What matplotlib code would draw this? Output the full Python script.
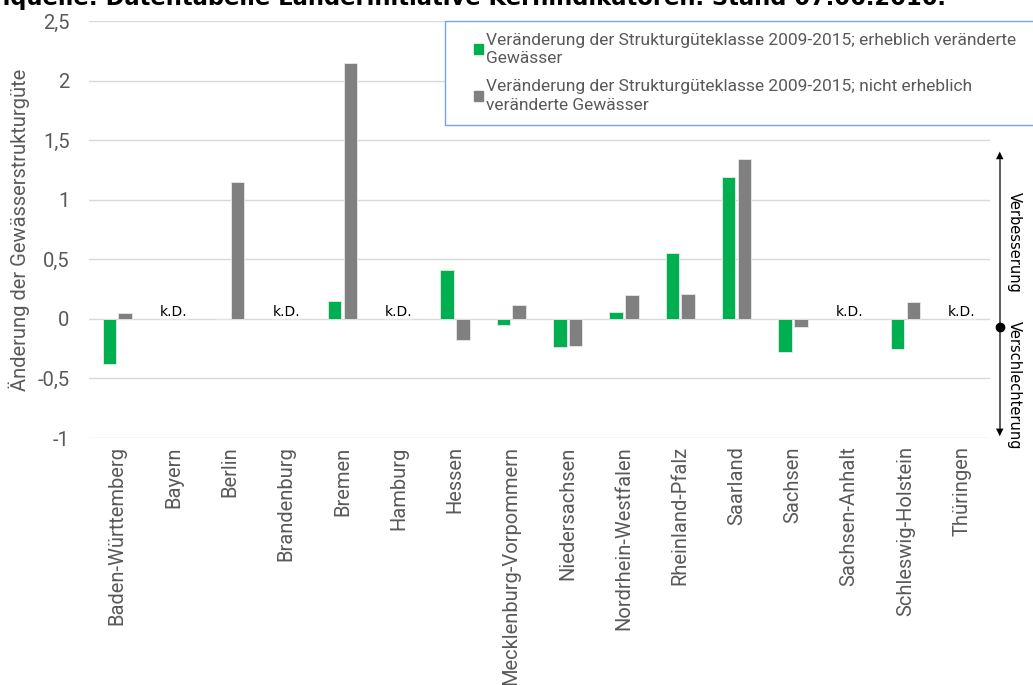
import matplotlib.pyplot as plt
import numpy as np
from matplotlib.patches import Patch, Rectangle

laender = ["Baden-Württemberg", "Bayern", "Berlin", "Brandenburg", "Bremen", "Hamburg",
           "Hessen", "Mecklenburg-Vorpommern", "Niedersachsen", "Nordrhein-Westfalen",
           "Rheinland-Pfalz", "Saarland", "Sachsen", "Sachsen-Anhalt", "Schleswig-Holstein",
           "Thüringen"]
# None = keine Daten
erheblich = [-0.38, None, 0.0, None, 0.15, None, 0.41, -0.05, -0.24, 0.06, 0.55, 1.19,
             -0.28, None, -0.25, None]
nicht_erheblich = [0.05, None, 1.15, None, 2.15, None, -0.18, 0.12, -0.23, 0.20, 0.21, 1.34,
                   -0.07, None, 0.14, None]
y_ticks = [-1, -0.5, 0, 0.5, 1, 1.5, 2, 2.5]
y_ticklabels = ["-1", "-0,5", "0", "0,5", "1", "1,5", "2", "2,5"]

plt.rcParams['font.family'] = ['Roboto', 'DejaVu Sans']

gruen = "#00B050"
grau = "#808080"
text_grau = "#595959"

fig = plt.figure(figsize=(10.33, 6.85), dpi=100)
ax = fig.add_axes([89 / 1033, 1 - 438 / 685, 901 / 1033, 417 / 685])

x = np.arange(len(laender))
w = 0.24
e_vals = [v if v is not None else 0 for v in erheblich]
n_vals = [v if v is not None else 0 for v in nicht_erheblich]
ax.bar(x - 0.14, e_vals, w, color=gruen, edgecolor="#e8e8e8", linewidth=0.6, zorder=3)
ax.bar(x + 0.14, n_vals, w, color=grau, edgecolor="#e8e8e8", linewidth=0.6, zorder=3)

for i in range(len(laender)):
    if erheblich[i] is None and nicht_erheblich[i] is None:
        ax.text(x[i], 0.0, "k.D.", ha="center", va="bottom", fontsize=10,
                family=['DejaVu Sans'], color="black")

ax.set_xlim(-0.5, len(laender) - 0.5)
ax.set_ylim(-1, 2.5)
ax.set_yticks(y_ticks)
ax.set_yticklabels(y_ticklabels, fontsize=14.5, color=text_grau)
ax.set_xticks(x)
ax.set_xticklabels(laender, rotation=90, fontsize=14.5, color=text_grau)
ax.tick_params(length=0, pad=14)
ax.tick_params(axis="x", pad=6)
ax.grid(axis="y", color="#d9d9d9", linewidth=1, zorder=0)
for s in ax.spines.values():
    s.set_visible(False)
ax.set_ylabel("Änderung der Gewässerstrukturgüte", fontsize=14.5, color=text_grau, labelpad=5)

# Legendenrahmen separat, Legende selbst ohne Rahmen
fig.add_artist(Rectangle((445 / 1033, 1 - 125 / 685), 600 / 1033, 104 / 685,
                         transform=fig.transFigure, facecolor="white",
                         edgecolor="#6fa8dc", linewidth=1, zorder=5))
handles = [Patch(color=gruen), Patch(color=grau)]
labels = ["Veränderung der Strukturgüteklasse 2009-2015; erheblich veränderte\nGewässer",
          "Veränderung der Strukturgüteklasse 2009-2015; nicht erheblich\nveränderte Gewässer"]
leg = fig.legend(handles, labels, loc="upper left", bbox_to_anchor=(464 / 1033, 1 - 23 / 685),
                 fontsize=12.5, frameon=False, handlelength=0.55,
                 handleheight=0.55, handletextpad=0.15, labelcolor=text_grau,
                 borderpad=0.55, labelspacing=0.75, borderaxespad=0)
leg.set_zorder(6)
for t in leg.get_texts():
    t.set_linespacing(1.3)

# Pfeil rechts: Verbesserung / Verschlechterung
fig.add_artist(plt.Line2D([1000 / 1033, 1000 / 1033], [1 - 160 / 685, 1 - 428 / 685],
                          color="#404040", lw=1.2))
fig.text(1000 / 1033, 1 - 155 / 685, "▲", ha="center", va="center", fontsize=7,
         family=['DejaVu Sans'])
fig.text(1000 / 1033, 1 - 432 / 685, "▼", ha="center", va="center", fontsize=7,
         family=['DejaVu Sans'])
fig.add_artist(plt.Line2D([1000 / 1033], [1 - 327 / 685], marker="o", color="black",
                          markersize=6))
fig.text(1014 / 1033, 1 - 242 / 685, "Verbesserung", rotation=-90, ha="center", va="center",
         fontsize=10.5, family=['DejaVu Sans'], color="black")
fig.text(1014 / 1033, 1 - 385 / 685, "Verschlechterung", rotation=-90, ha="center",
         va="center", fontsize=10.5, family=['DejaVu Sans'], color="black")

fig.text(946 / 1033, 1 - 5 / 685,
         "Datenquelle: Datentabelle Länderinitiative Kernindikatoren. Stand 07.06.2016.",
         ha="right", va="baseline", fontsize=16.3, fontweight="bold", family=['DejaVu Sans'])

fig.savefig("out.png", dpi=100)
